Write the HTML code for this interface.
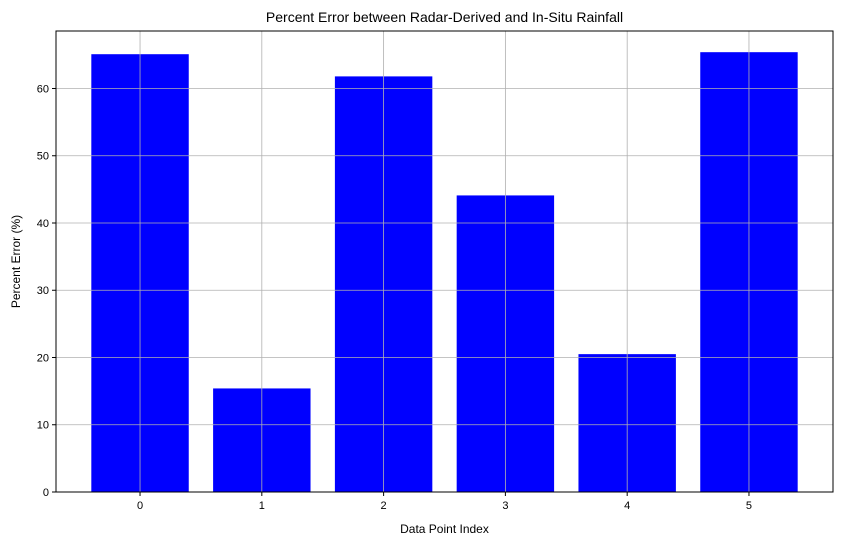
<!DOCTYPE html>
<html><head><meta charset="utf-8"><style>
body{margin:0;background:#fff;}
svg text{font-family:"Liberation Sans","DejaVu Sans",sans-serif;fill:#000;}
</style></head><body>
<svg id="chart" width="842" height="545" viewBox="0 0 842 545">
<text x="444.5" y="22" text-anchor="middle" font-size="14">Percent Error between Radar-Derived and In-Situ Rainfall</text>
<text x="444.5" y="533" text-anchor="middle" font-size="12">Data Point Index</text>
<text transform="translate(20,261.5) rotate(-90)" text-anchor="middle" font-size="12">Percent Error (%)</text>
<g id="bars"></g><g id="grid"></g><g id="ticks"></g>
<rect x="56" y="31" width="777" height="461" fill="none" stroke="#000" stroke-width="1"/>
</svg>
<script>
const categories=["0","1","2","3","4","5"];
const values=[65.1,15.4,61.8,44.1,20.5,65.4];
const yTicks=[0,10,20,30,40,50,60];
const L=56,R=833,T=31,B=492,xmin=-0.69,xmax=5.69,ymax=68.55;
const xs=i=>L+(i-xmin)/(xmax-xmin)*(R-L);
const ys=v=>B-v/ymax*(B-T);
const NS="http://www.w3.org/2000/svg";
function mk(t,a,p){const e=document.createElementNS(NS,t);for(const k in a)e.setAttribute(k,a[k]);p.appendChild(e);return e;}
const bars=document.getElementById('bars'),grid=document.getElementById('grid'),ticks=document.getElementById('ticks');
const bw=0.8*(xs(1)-xs(0));
values.forEach((v,i)=>{
 const r=mk('rect',{x:xs(i)-bw/2,y:ys(v),width:bw,height:B-ys(v),fill:'#0000ff'},bars);
 
 
});
categories.forEach((c,i)=>{
 const x=xs(i);
 const g=mk('line',{x1:x,x2:x,y1:T,y2:B,stroke:'#b0b0b0','stroke-width':0.8},grid);
 
 
 mk('line',{x1:x,x2:x,y1:B,y2:B+4,stroke:'#000'},ticks);
 const t=mk('text',{x:x,y:B+17,'text-anchor':'middle','font-size':11},ticks);t.textContent=c;
 
 
});
yTicks.forEach(v=>{
 const y=ys(v);
 const g=mk('line',{x1:L,x2:R,y1:y,y2:y,stroke:'#b0b0b0','stroke-width':0.8},grid);
 
 
 mk('line',{x1:L-4,x2:L,y1:y,y2:y,stroke:'#000'},ticks);
 const t=mk('text',{x:L-7,y:y+4,'text-anchor':'end','font-size':11},ticks);t.textContent=v;
 
 
});
</script>
</body></html>
